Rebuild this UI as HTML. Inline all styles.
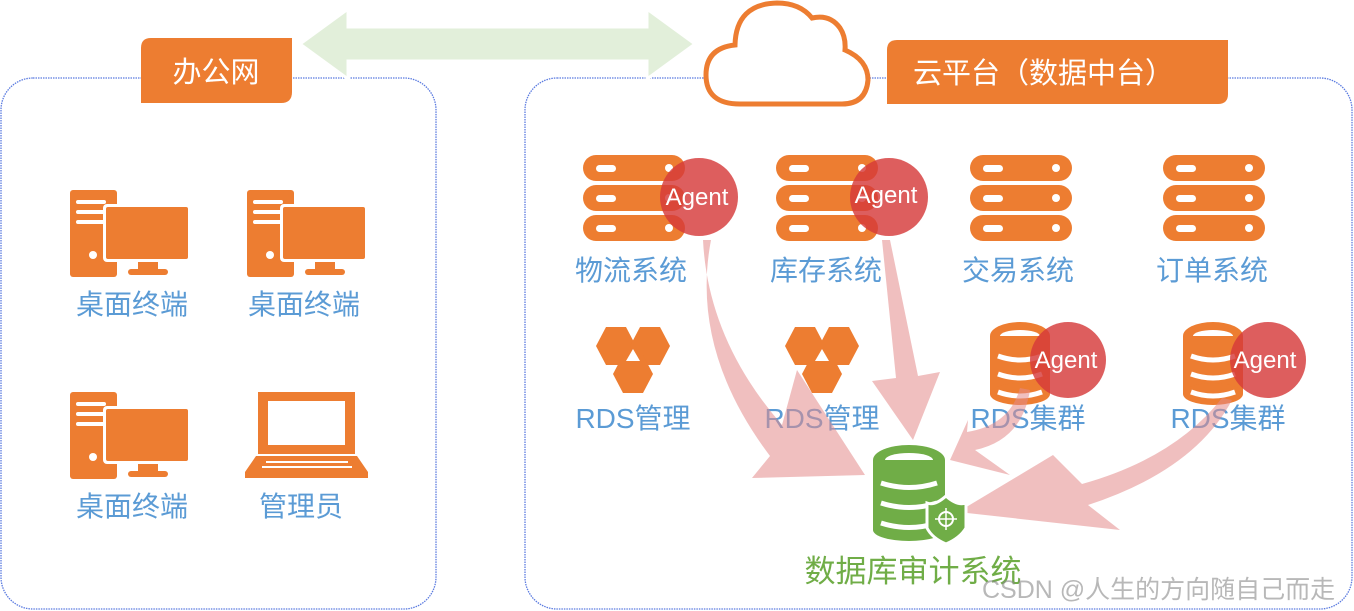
<!DOCTYPE html>
<html><head><meta charset="utf-8"><style>
html,body{margin:0;padding:0;background:#fff;}
svg{display:block;}
text{font-family:"Liberation Sans","Noto Sans CJK SC",sans-serif;}
</style></head><body>
<svg width="1354" height="611" viewBox="0 0 1354 611" xmlns="http://www.w3.org/2000/svg">
<defs>
<g id="srv">
<rect x="0" y="0" width="102" height="26" rx="13" fill="#ed7d31"/>
<rect x="0" y="30" width="102" height="26" rx="13" fill="#ed7d31"/>
<rect x="0" y="60" width="102" height="26" rx="13" fill="#ed7d31"/>
<rect x="13" y="10" width="20" height="7" rx="3.5" fill="#fff"/>
<rect x="13" y="40" width="20" height="7" rx="3.5" fill="#fff"/>
<rect x="13" y="70" width="20" height="7" rx="3.5" fill="#fff"/>
<circle cx="86" cy="13" r="4" fill="#fff"/><circle cx="86" cy="43" r="4" fill="#fff"/><circle cx="86" cy="73" r="4" fill="#fff"/>
</g>
<g id="pc">
<rect x="0" y="0" width="47" height="87" rx="3" fill="#ed7d31"/>
<rect x="6" y="10" width="30" height="4" rx="2" fill="#fff"/>
<rect x="6" y="20" width="30" height="4" rx="2" fill="#fff"/>
<rect x="6" y="30" width="30" height="4" rx="2" fill="#fff"/>
<circle cx="23" cy="65" r="4" fill="#fff"/>
<rect x="33" y="14" width="86" height="58" rx="4" fill="#fff"/>
<rect x="36" y="17" width="82" height="52" rx="2" fill="#ed7d31"/>
<rect x="68" y="72" width="20" height="8" fill="#ed7d31"/>
<rect x="58" y="79" width="40" height="6" rx="3" fill="#ed7d31"/>
</g>
<g id="hex3">
<polygon points="-10,-19 10,-19 20,0 10,19 -10,19 -20,0" fill="#ed7d31" transform="translate(-17,-10)"/>
<polygon points="-10,-19 10,-19 20,0 10,19 -10,19 -20,0" fill="#ed7d31" transform="translate(17,-10)"/>
<polygon points="-10,-19 10,-19 20,0 10,19 -10,19 -20,0" fill="#ed7d31" transform="translate(0,18)"/>
<polygon points="0,-7 7,5 -7,5" fill="#fff"/>
</g>
<g id="db">
<ellipse cx="30" cy="14" rx="30" ry="14" fill="#ed7d31"/>
<ellipse cx="30" cy="14" rx="20" ry="6" fill="#fff"/>
<rect x="0" y="14" width="60" height="58" fill="#ed7d31"/>
<ellipse cx="30" cy="72" rx="30" ry="11" fill="#ed7d31"/>
<path d="M8 34 Q30 42 52 34" stroke="#fff" stroke-width="5" fill="none"/>
<path d="M8 52 Q30 60 52 52" stroke="#fff" stroke-width="5" fill="none"/>
<path d="M8 70 Q30 78 52 70" stroke="#fff" stroke-width="5" fill="none"/>
</g>
</defs>

<!-- boxes -->
<rect x="1" y="78" width="435" height="531" rx="32" fill="none" stroke="#5b7be0" stroke-width="1.3" stroke-dasharray="1.5 1"/>
<rect x="525" y="78" width="827" height="531" rx="32" fill="none" stroke="#5b7be0" stroke-width="1.3" stroke-dasharray="1.5 1"/>

<!-- double arrow -->
<polygon points="300,44 348,9 348,27 647,27 647,9 695,44 647,79 647,61 348,61 348,79" fill="#e2efda" stroke="#fff" stroke-width="3"/>
<!-- cloud -->
<path d="M740 104 Q706 104 706 75 Q706 48 735 45 Q736 4 777 3 Q800 3 812 18 Q830 14 840 28 Q846 37 845 50 Q868 60 868 80 Q866 104 842 104 Z" fill="#fff" stroke="#ed7d31" stroke-width="5"/>

<!-- tabs -->
<path d="M151 38 H292 V92 Q292 103 281 103 H141 V48 Q141 38 151 38 Z" fill="#ed7d31"/>
<text x="216" y="82" font-size="29" fill="#fff" text-anchor="middle">办公网</text>
<path d="M897 40 H1228 V94 Q1228 104 1218 104 H887 V50 Q887 40 897 40 Z" fill="#ed7d31"/>
<text x="913" y="83" font-size="29" fill="#fff">云平台（数据中台）</text>

<!-- left icons -->
<use href="#pc" x="70" y="190"/>
<use href="#pc" x="247" y="190"/>
<use href="#pc" x="70" y="392"/>
<g>
<rect x="258" y="392" width="97" height="62" fill="#ed7d31"/>
<rect x="268" y="401" width="77" height="44" fill="#fff"/>
<polygon points="256,456 357,456 368,472 245,472" fill="#ed7d31"/>
<rect x="245" y="472" width="123" height="6" fill="#ed7d31"/>
<g fill="#fff"><rect x="266" y="461" width="82" height="2"/><rect x="262" y="466" width="90" height="2"/></g>
</g>
<g font-size="28" fill="#5b9bd5" text-anchor="middle">
<text x="132" y="314">桌面终端</text>
<text x="304" y="314">桌面终端</text>
<text x="132" y="516">桌面终端</text>
<text x="301" y="516">管理员</text>
</g>

<!-- servers -->
<use href="#srv" x="583" y="155"/>
<use href="#srv" x="776" y="155"/>
<use href="#srv" x="970" y="155"/>
<use href="#srv" x="1163" y="155"/>
<use href="#hex3" x="633" y="356"/>
<use href="#hex3" x="822" y="356"/>
<use href="#db" x="990" y="322"/>
<use href="#db" x="1183" y="322"/>

<!-- agents -->
<g fill="#d53a3a" fill-opacity="0.82">
<circle cx="699" cy="197" r="39"/>
<circle cx="889" cy="197" r="39"/>
<circle cx="1068" cy="360" r="38"/>
<circle cx="1268" cy="360" r="38"/>
</g>
<g font-size="24" fill="#fff" text-anchor="middle">
<text x="697" y="205">Agent</text>
<text x="886" y="203">Agent</text>
<text x="1066" y="368">Agent</text>
<text x="1265" y="368">Agent</text>
</g>

<!-- labels -->
<g font-size="28" fill="#5b9bd5" text-anchor="middle">
<text x="631" y="280">物流系统</text>
<text x="826" y="280">库存系统</text>
<text x="1018" y="280">交易系统</text>
<text x="1212" y="280">订单系统</text>
<text x="633" y="428">RDS管理</text>
<text x="822" y="428">RDS管理</text>
<text x="1028" y="428">RDS集群</text>
<text x="1228" y="428">RDS集群</text>
</g>

<!-- pink arrows -->
<g fill="#e48a8a" fill-opacity="0.55">
<path d="M703 240 Q708 340 782 425 L797 370 L865 475 L752 478 L770 456 Q690 350 711 240 Z"/>
<path d="M882 240 L896 378 L872 381 L913 440 L940 372 L918 376 L890 240 Z"/>
<path d="M1020 388 Q1010 425 967 432 L968 420 L950 460 L1010 475 L975 450 Q1022 440 1030 390 Z"/>
<path d="M1222 398 Q1175 458 1082 484 L1053 455 L958 512 L1120 530 L1088 505 Q1195 470 1232 400 Z"/>
</g>

<!-- green db -->
<g>
<ellipse cx="909" cy="460" rx="36" ry="15" fill="#70ad47"/>
<ellipse cx="909" cy="460" rx="24" ry="7" fill="#fff"/>
<rect x="873" y="460" width="72" height="70" fill="#70ad47"/>
<ellipse cx="909" cy="530" rx="36" ry="11" fill="#70ad47"/>
<path d="M881 483 Q909 492 937 483" stroke="#fff" stroke-width="5" fill="none"/>
<path d="M881 503 Q909 512 937 503" stroke="#fff" stroke-width="5" fill="none"/>
<path d="M881 523 Q909 532 937 523" stroke="#fff" stroke-width="5" fill="none"/>
<path d="M946 496 Q935 506 927 503 V528 Q932 538 946 544 Q960 538 966 528 V503 Q957 506 946 496 Z" fill="#70ad47" stroke="#fff" stroke-width="3"/>
<circle cx="946" cy="519" r="7" fill="none" stroke="#fff" stroke-width="2"/>
<path d="M946 508 V530 M935 519 H957" stroke="#fff" stroke-width="1.5"/>
</g>
<text x="913" y="582" font-size="31" fill="#70ad47" text-anchor="middle">数据库审计系统</text>
<text x="982" y="598" font-size="25" fill="#888" fill-opacity="0.6">CSDN @人生的方向随自己而走</text>
</svg>
</body></html>
